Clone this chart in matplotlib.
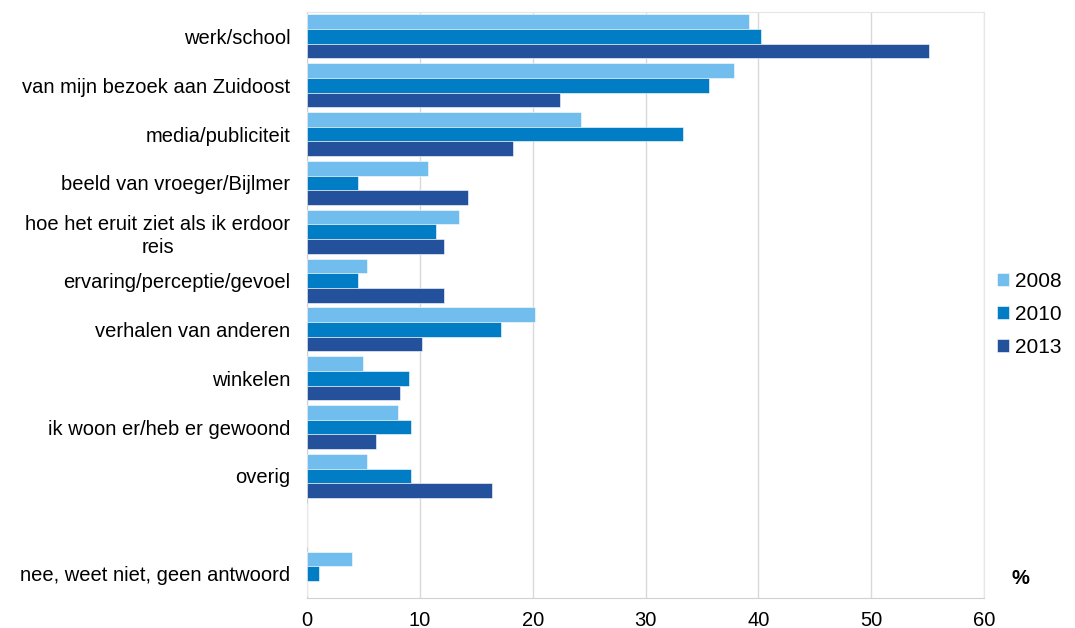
import numpy as np
import matplotlib.pyplot as plt

plt.rcParams['font.family'] = ['Liberation Sans', 'DejaVu Sans']

categories = [
    "werk/school",
    "van mijn bezoek aan Zuidoost",
    "media/publiciteit",
    "beeld van vroeger/Bijlmer",
    "hoe het eruit ziet als ik erdoor\nreis",
    "ervaring/perceptie/gevoel",
    "verhalen van anderen",
    "winkelen",
    "ik woon er/heb er gewoond",
    "overig",
    "",
    "nee, weet niet, geen antwoord",
]
years = ["2008", "2010", "2013"]
v2008 = [39.2, 37.8, 24.3, 10.7, 13.5, 5.3, 20.2, 5.0, 8.1, 5.3, 0, 4.0]
v2010 = [40.2, 35.6, 33.3, 4.5, 11.4, 4.5, 17.2, 9.0, 9.2, 9.2, 0, 1.1]
v2013 = [55.1, 22.4, 18.3, 14.3, 12.1, 12.1, 10.2, 8.2, 6.1, 16.4, 0, 0]
colors = ["#71BDED", "#007DC5", "#24519C"]

fig = plt.figure(figsize=(10.75, 6.28), dpi=100)
ax = fig.add_axes([307 / 1075, 1 - 598 / 628, (984 - 307) / 1075, (598 - 12) / 628])

y = np.arange(len(categories))
h = 0.3
for i, (vals, c) in enumerate(zip([v2008, v2010, v2013], colors)):
    ax.barh(y + (i - 1) * h, vals, height=h, color=c, label=years[i],
            edgecolor="white", linewidth=0.4, zorder=3)

ax.set_ylim(len(categories) - 0.5, -0.5)
ax.set_xlim(0, 60)
ax.set_xticks(range(0, 61, 10))
ax.set_yticks(y)
ax.set_yticklabels(categories, fontsize=14.5, multialignment="center",
                   linespacing=1.3)
ax.tick_params(axis="x", labelsize=14.5, length=0, pad=9)
ax.tick_params(axis="y", length=0, pad=12)
ax.grid(axis="x", color="#d9d9d9", linewidth=1, zorder=0)
for s in ["top", "right"]:
    ax.spines[s].set_color("#e6e6e6")
for s in ["left", "bottom"]:
    ax.spines[s].set_color("#d0d0d0")

ax.legend(loc="center left", bbox_to_anchor=(0.992, 0.484), frameon=False,
          fontsize=15, handlelength=0.55, handleheight=0.55, handletextpad=0.3,
          labelspacing=0.66)
fig.text(1020 / 1075, 1 - 579 / 628, "%", fontsize=14.5, fontweight="bold",
         ha="center", va="center")

fig.savefig("out.png", dpi=100)
